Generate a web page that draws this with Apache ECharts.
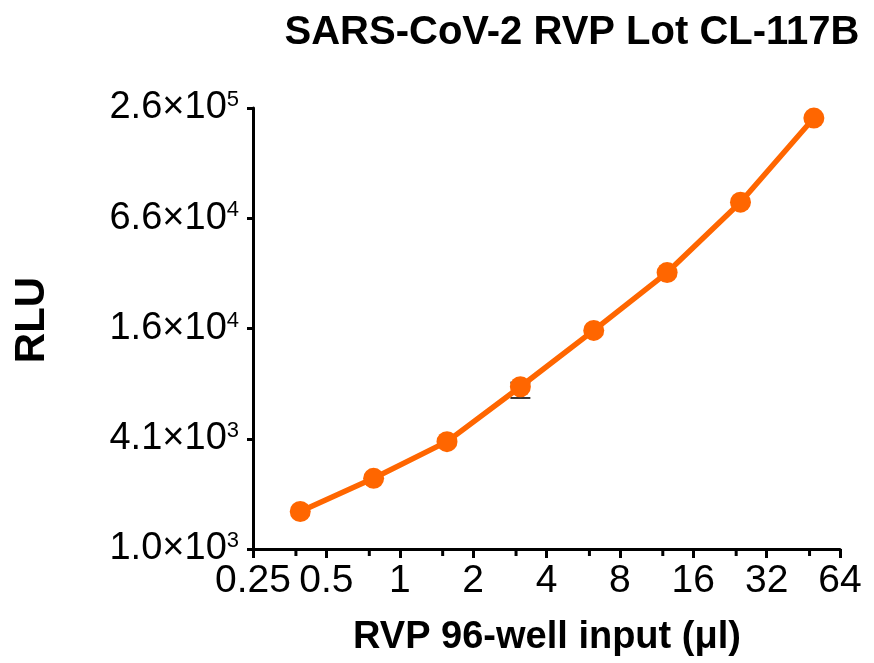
<!DOCTYPE html>
<html>
<head>
<meta charset="utf-8">
<script src="https://cdn.jsdelivr.net/npm/echarts@6/dist/echarts.min.js"></script>
<style>
  html, body { margin: 0; padding: 0; background: #fff; }
  #chart { width: 874px; height: 663px; }
</style>
</head>
<body>
<div id="chart"></div>
<script>
// RVP input (µl) for each well, two-fold dilution
const inputVolumes = [0.390625, 0.78125, 1.5625, 3.125, 6.25, 12.5, 25, 50]
// mean RLU
const rluValues = [1640, 2490, 3950, 7880, 16000, 33100, 80200, 231000]
// [input, low, high] - only one bar sticks out of its marker
const errorBars = [[3.125, 6840, 8300]]

const xTicks = [0.25, 0.5, 1, 2, 4, 8, 16, 32, 64]
const xTickLabels = ['0.25', '0.5', '1', '2', '4', '8', '16', '32', '64']
const xMinorTicks = [0.375, 0.75, 1.5, 3, 6, 12, 24, 48]
const yTicks = [1024, 4096, 16384, 65536, 262144]
const yTickLabels = [['1.0×10', '3'], ['4.1×10', '3'], ['1.6×10', '4'], ['6.6×10', '4'], ['2.6×10', '5']]

const FONT = '"Liberation Sans", Arial, sans-serif'
const ORANGE = '#ff6600'

function findTick (ticks, v) {
  for (let i = 0; i < ticks.length; i++) {
    if (Math.abs(v - ticks[i]) / ticks[i] < 1e-6) return i
  }
  return -1
}

let myChart = echarts.init(document.getElementById('chart'))
myChart.setOption({
  animation: false,
  backgroundColor: '#fff',
  grid: {
    left: 253,
    right: 34,
    top: 108,
    bottom: 114
  },
  graphic: [
    {
      type: 'text',
      x: 572,
      y: 33,
      style: {
        text: 'SARS-CoV-2 RVP Lot CL-117B',
        font: 'bold 40px ' + FONT,
        fill: '#000',
        textAlign: 'center',
        textVerticalAlign: 'middle'
      }
    },
    {
      type: 'text',
      x: 547,
      y: 638,
      style: {
        text: 'RVP 96-well input (μl)',
        font: 'bold 38px ' + FONT,
        fill: '#000',
        textAlign: 'center',
        textVerticalAlign: 'middle'
      }
    },
    {
      type: 'text',
      x: 32,
      y: 320,
      rotation: Math.PI / 2,
      style: {
        text: 'RLU',
        font: 'bold 42px ' + FONT,
        fill: '#000',
        textAlign: 'center',
        textVerticalAlign: 'middle'
      }
    }
  ],
  xAxis: {
    type: 'log',
    logBase: 2,
    min: 0.25,
    max: 64,
    interval: 1,
    axisLine: { lineStyle: { color: '#000', width: 3 } },
    axisTick: { inside: false, length: 9, lineStyle: { color: '#000', width: 3 } },
    splitLine: { show: false },
    axisLabel: {
      margin: 13,
      color: '#000',
      fontSize: 39,
      fontFamily: FONT,
      formatter: v => {
        let i = findTick(xTicks, v)
        return i < 0 ? '' : xTickLabels[i]
      }
    }
  },
  yAxis: {
    type: 'log',
    logBase: 4,
    min: 1024,
    max: 262144,
    interval: 1,
    axisLine: { lineStyle: { color: '#000', width: 3 } },
    axisTick: { inside: false, length: 6, lineStyle: { color: '#000', width: 3 } },
    splitLine: { show: false },
    axisLabel: {
      margin: 14,
      color: '#000',
      fontFamily: FONT,
      formatter: v => {
        let i = findTick(yTicks, v)
        if (i < 0) return ''
        return '{base|' + yTickLabels[i][0] + '}{sup|' + yTickLabels[i][1] + '}'
      },
      rich: {
        base: { fontSize: 38, fontFamily: FONT, color: '#000', lineHeight: 38 },
        sup: { fontSize: 22, fontFamily: FONT, color: '#000', verticalAlign: 'top', lineHeight: 38, padding: [0, 0, 12, 0] }
      }
    }
  },
  series: [
    {
      // minor ticks between the powers of two
      type: 'custom',
      clip: false,
      data: xMinorTicks.map(v => [v, 1024]),
      encode: { x: 0, y: 1 },
      renderItem: (params, api) => {
        let p = api.coord([api.value(0), api.value(1)])
        return {
          type: 'rect',
          shape: { x: p[0] - 1.5, y: p[1], width: 3, height: 7 },
          style: { fill: '#000' }
        }
      }
    },
    {
      type: 'custom',
      data: errorBars,
      encode: { x: 0, y: [1, 2] },
      renderItem: (params, api) => {
        let lo = api.coord([api.value(0), api.value(1)])
        let hi = api.coord([api.value(0), api.value(2)])
        let w = 10
        let st = { stroke: '#333', lineWidth: 2 }
        return {
          type: 'group',
          children: [
            { type: 'line', shape: { x1: lo[0], y1: lo[1], x2: hi[0], y2: hi[1] }, style: st },
            { type: 'line', shape: { x1: lo[0] - w, y1: lo[1], x2: lo[0] + w, y2: lo[1] }, style: st },
            { type: 'line', shape: { x1: hi[0] - w, y1: hi[1], x2: hi[0] + w, y2: hi[1] }, style: st }
          ]
        }
      }
    },
    {
      name: 'CL-117B',
      type: 'line',
      z: 3,
      data: inputVolumes.map((x, i) => [x, rluValues[i]]),
      symbol: 'circle',
      symbolSize: 21,
      lineStyle: { color: ORANGE, width: 5.5 },
      itemStyle: { color: ORANGE }
    }
  ]
})
</script>
</body>
</html>
